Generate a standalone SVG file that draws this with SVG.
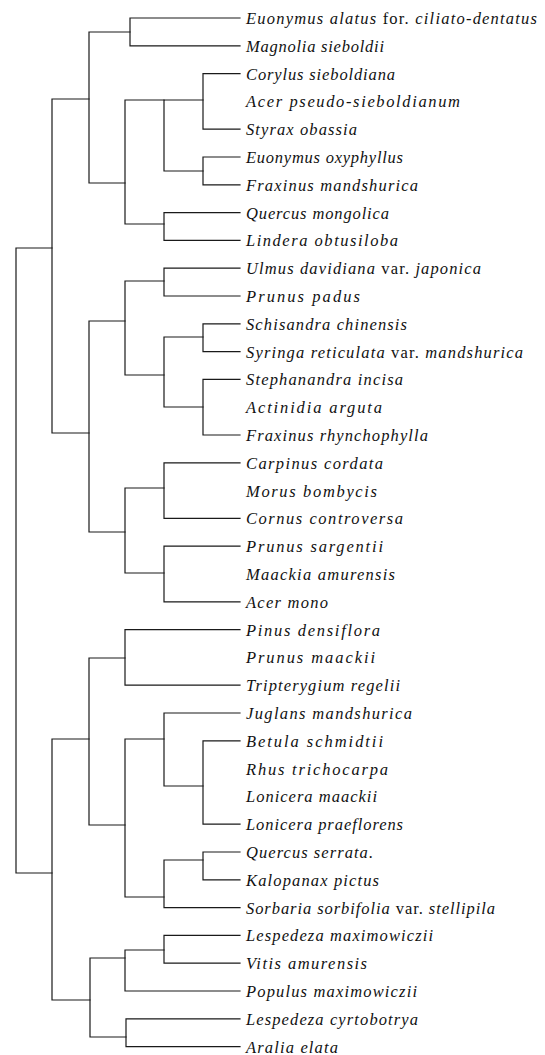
<svg xmlns="http://www.w3.org/2000/svg" width="545" height="1055" viewBox="0 0 545 1055">
<style>
.c{fill:none;stroke:#1a1a1a;stroke-width:1.2;stroke-linecap:square}
.t{font-family:"Liberation Serif","Times New Roman",serif;font-style:italic;font-size:16.5px;fill:#111}
.u{font-style:normal}
</style>
<rect width="545" height="1055" fill="#fff"/>
<g id="connectors" class="c">
<path d="M16 248V873M16 248H52M16 873H52"/>
<path d="M52 99V433M52 99H89M52 433H89"/>
<path d="M89 32V183M89 32H130M89 183H125"/>
<path d="M130 18V45.8M130 18H240M130 45.8H240"/>
<path d="M125 100V224M125 100H164M125 224H164"/>
<path d="M164 100V171M164 100H203M164 171H203"/>
<path d="M203 73.6V129.2M203 73.6H240M203 129.2H240"/>
<path d="M203 157V184.8M203 157H240M203 184.8H240"/>
<path d="M164 212.6V240.4M164 212.6H240M164 240.4H240"/>
<path d="M89 321V532M89 321H125M89 532H125"/>
<path d="M125 281V375M125 281H164M125 375H164"/>
<path d="M164 268.2V296M164 268.2H240M164 296H240"/>
<path d="M164 337V407M164 337H203M164 407H203"/>
<path d="M203 323.8V351.6M203 323.8H240M203 351.6H240"/>
<path d="M203 379.4V435M203 379.4H240M203 435H240"/>
<path d="M125 488V573M125 488H164M125 573H164"/>
<path d="M164 462.8V518.4M164 462.8H240M164 518.4H240"/>
<path d="M164 546.2V601.8M164 546.2H240M164 601.8H240"/>
<path d="M52 739V1000M52 739H89M52 1000H90"/>
<path d="M89 658V825M89 658H125M89 825H125"/>
<path d="M125 629.6V685.2M125 629.6H240M125 685.2H240"/>
<path d="M125 739V897M125 739H164M125 897H164"/>
<path d="M164 713V786M164 713H240M164 786H203"/>
<path d="M203 740.8V824.2M203 740.8H240M203 824.2H240"/>
<path d="M164 860V907.6M164 860H203M164 907.6H240"/>
<path d="M203 852V879.8M203 852H240M203 879.8H240"/>
<path d="M90 958V1037M90 958H125M90 1037H126"/>
<path d="M125 950V991M125 950H164M125 991H240"/>
<path d="M164 935.4V963.2M164 935.4H240M164 963.2H240"/>
<path d="M126 1018.8V1046.6M126 1018.8H240M126 1046.6H240"/>
</g>
<g id="n01"><text class="t" x="246" y="24" textLength="291" lengthAdjust="spacing">Euonymus alatus <tspan class="u">for.</tspan> ciliato-dentatus</text></g>
<g id="n02"><text class="t" x="246" y="51.8" textLength="138" lengthAdjust="spacing">Magnolia sieboldii</text></g>
<g id="n03"><text class="t" x="246" y="79.6" textLength="149" lengthAdjust="spacing">Corylus sieboldiana</text></g>
<g id="n04"><text class="t" x="246" y="107.4" textLength="214" lengthAdjust="spacing">Acer pseudo-sieboldianum</text></g>
<g id="n05"><text class="t" x="246" y="135.2" textLength="111" lengthAdjust="spacing">Styrax obassia</text></g>
<g id="n06"><text class="t" x="246" y="163" textLength="157" lengthAdjust="spacing">Euonymus oxyphyllus</text></g>
<g id="n07"><text class="t" x="246" y="190.8" textLength="172" lengthAdjust="spacing">Fraxinus mandshurica</text></g>
<g id="n08"><text class="t" x="246" y="218.6" textLength="143" lengthAdjust="spacing">Quercus mongolica</text></g>
<g id="n09"><text class="t" x="246" y="246.4" textLength="152" lengthAdjust="spacing">Lindera obtusiloba</text></g>
<g id="n10"><text class="t" x="246" y="274.2" textLength="235" lengthAdjust="spacing">Ulmus davidiana <tspan class="u">var.</tspan> japonica</text></g>
<g id="n11"><text class="t" x="246" y="302" textLength="114" lengthAdjust="spacing">Prunus padus</text></g>
<g id="n12"><text class="t" x="246" y="329.8" textLength="161" lengthAdjust="spacing">Schisandra chinensis</text></g>
<g id="n13"><text class="t" x="246" y="357.6" textLength="277" lengthAdjust="spacing">Syringa reticulata <tspan class="u">var.</tspan> mandshurica</text></g>
<g id="n14"><text class="t" x="246" y="385.4" textLength="157" lengthAdjust="spacing">Stephanandra incisa</text></g>
<g id="n15"><text class="t" x="246" y="413.2" textLength="136" lengthAdjust="spacing">Actinidia arguta</text></g>
<g id="n16"><text class="t" x="246" y="441" textLength="182" lengthAdjust="spacing">Fraxinus rhynchophylla</text></g>
<g id="n17"><text class="t" x="246" y="468.8" textLength="137" lengthAdjust="spacing">Carpinus cordata</text></g>
<g id="n18"><text class="t" x="246" y="496.6" textLength="131" lengthAdjust="spacing">Morus bombycis</text></g>
<g id="n19"><text class="t" x="246" y="524.4" textLength="157" lengthAdjust="spacing">Cornus controversa</text></g>
<g id="n20"><text class="t" x="246" y="552.2" textLength="137" lengthAdjust="spacing">Prunus sargentii</text></g>
<g id="n21"><text class="t" x="246" y="580" textLength="149" lengthAdjust="spacing">Maackia amurensis</text></g>
<g id="n22"><text class="t" x="246" y="607.8" textLength="82" lengthAdjust="spacing">Acer mono</text></g>
<g id="n23"><text class="t" x="246" y="635.6" textLength="134" lengthAdjust="spacing">Pinus densiflora</text></g>
<g id="n24"><text class="t" x="246" y="663.4" textLength="129" lengthAdjust="spacing">Prunus maackii</text></g>
<g id="n25"><text class="t" x="246" y="691.2" textLength="154" lengthAdjust="spacing">Tripterygium regelii</text></g>
<g id="n26"><text class="t" x="246" y="719" textLength="166" lengthAdjust="spacing">Juglans mandshurica</text></g>
<g id="n27"><text class="t" x="246" y="746.8" textLength="137" lengthAdjust="spacing">Betula schmidtii</text></g>
<g id="n28"><text class="t" x="246" y="774.6" textLength="142" lengthAdjust="spacing">Rhus trichocarpa</text></g>
<g id="n29"><text class="t" x="246" y="802.4" textLength="131" lengthAdjust="spacing">Lonicera maackii</text></g>
<g id="n30"><text class="t" x="246" y="830.2" textLength="157" lengthAdjust="spacing">Lonicera praeflorens</text></g>
<g id="n31"><text class="t" x="246" y="858" textLength="127" lengthAdjust="spacing">Quercus serrata.</text></g>
<g id="n32"><text class="t" x="246" y="885.8" textLength="133" lengthAdjust="spacing">Kalopanax pictus</text></g>
<g id="n33"><text class="t" x="246" y="913.6" textLength="249" lengthAdjust="spacing">Sorbaria sorbifolia <tspan class="u">var.</tspan> stellipila</text></g>
<g id="n34"><text class="t" x="246" y="941.4" textLength="187" lengthAdjust="spacing">Lespedeza maximowiczii</text></g>
<g id="n35"><text class="t" x="246" y="969.2" textLength="121" lengthAdjust="spacing">Vitis amurensis</text></g>
<g id="n36"><text class="t" x="246" y="997" textLength="171" lengthAdjust="spacing">Populus maximowiczii</text></g>
<g id="n37"><text class="t" x="246" y="1024.8" textLength="172" lengthAdjust="spacing">Lespedeza cyrtobotrya</text></g>
<g id="n38"><text class="t" x="246" y="1052.6" textLength="92" lengthAdjust="spacing">Aralia elata</text></g>
</svg>
